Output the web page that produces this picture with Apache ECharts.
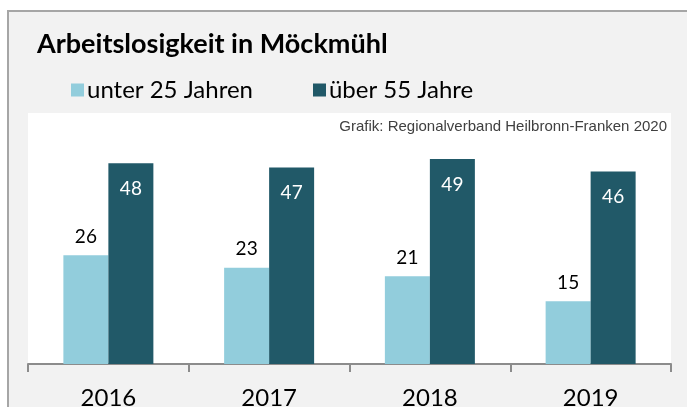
<html>
<head>
    <meta charset="UTF-8">
    <title>Arbeitslosigkeit in Möckmühl</title>
    <style type="text/css">
        html, body { margin: 0; padding: 0; background: #fff; }
        #main { width: 687px; height: 407px; }
    </style>
</head>
<body>
    <div id="main"></div>
</body>
<script src="https://cdn.jsdelivr.net/npm/echarts@6/dist/echarts.min.js"></script>
<script type="text/javascript">
    var years = ['2016', '2017', '2018', '2019'];
    var unter25 = [26, 23, 21, 15];
    var ueber55 = [48, 47, 49, 46];
    var seriesNames = ['unter 25 Jahren', 'über 55 Jahre'];

    var font = 'Lato, "Open Sans", sans-serif';

    var option = {
        backgroundColor: '#fff',
        animation: false,
        color: ['#92cddc', '#215968'],
        graphic: [
            {   // grauer Rahmen
                type: 'rect',
                z: -10,
                shape: { x: 8, y: 11, width: 900, height: 600 },
                style: { fill: '#f2f2f2', stroke: '#a6a6a6', lineWidth: 2 }
            },
            {
                type: 'text',
                left: 37, top: 31,
                style: {
                    text: 'Arbeitslosigkeit in Möckmühl',
                    fontFamily: font, fontWeight: 'bold', fontSize: 27, fill: '#000'
                }
            },
            {
                type: 'text',
                right: 20, top: 119,
                z: 10,
                style: {
                    text: 'Grafik: Regionalverband Heilbronn-Franken 2020',
                    fontFamily: '"Liberation Sans", Arial, sans-serif', fontSize: 15, fill: '#404040'
                }
            }
        ],
        legend: {
            left: 66,
            top: 73,
            itemWidth: 13,
            itemHeight: 13,
            itemGap: 60,
            icon: 'rect',
            textStyle: { fontFamily: font, fontSize: 24, color: '#000', padding: [0, 0, 0, -2] },
            data: seriesNames
        },
        grid: {
            left: 28, right: 16, top: 113, bottom: 43,
            outerBoundsMode: 'none',
            show: true, backgroundColor: '#fff', borderWidth: 0
        },
        xAxis: {
            type: 'category',
            data: years,
            axisLine: { lineStyle: { color: '#8c8c8c', width: 2 } },
            axisTick: { show: true, length: 8, alignWithLabel: false, lineStyle: { color: '#8c8c8c', width: 2 } },
            axisLabel: { fontFamily: font, fontSize: 24, color: '#000', margin: 22 }
        },
        yAxis: {
            type: 'value',
            min: 0, max: 60,
            show: false,
            splitLine: { show: false }
        },
        series: [
            {
                name: seriesNames[0],
                type: 'bar',
                data: unter25,
                barWidth: 45,
                barGap: '0%',
                label: {
                    show: true, position: 'top', distance: 9,
                    fontFamily: font, fontSize: 19, color: '#000'
                }
            },
            {
                name: seriesNames[1],
                type: 'bar',
                data: ueber55,
                barWidth: 45,
                barGap: '0%',
                label: {
                    show: true, position: 'insideTop', distance: 16,
                    fontFamily: font, fontSize: 19, color: '#fff'
                }
            }
        ]
    };

    var myChart = echarts.init(document.getElementById('main'));
    myChart.setOption(option);
</script>
</html>
